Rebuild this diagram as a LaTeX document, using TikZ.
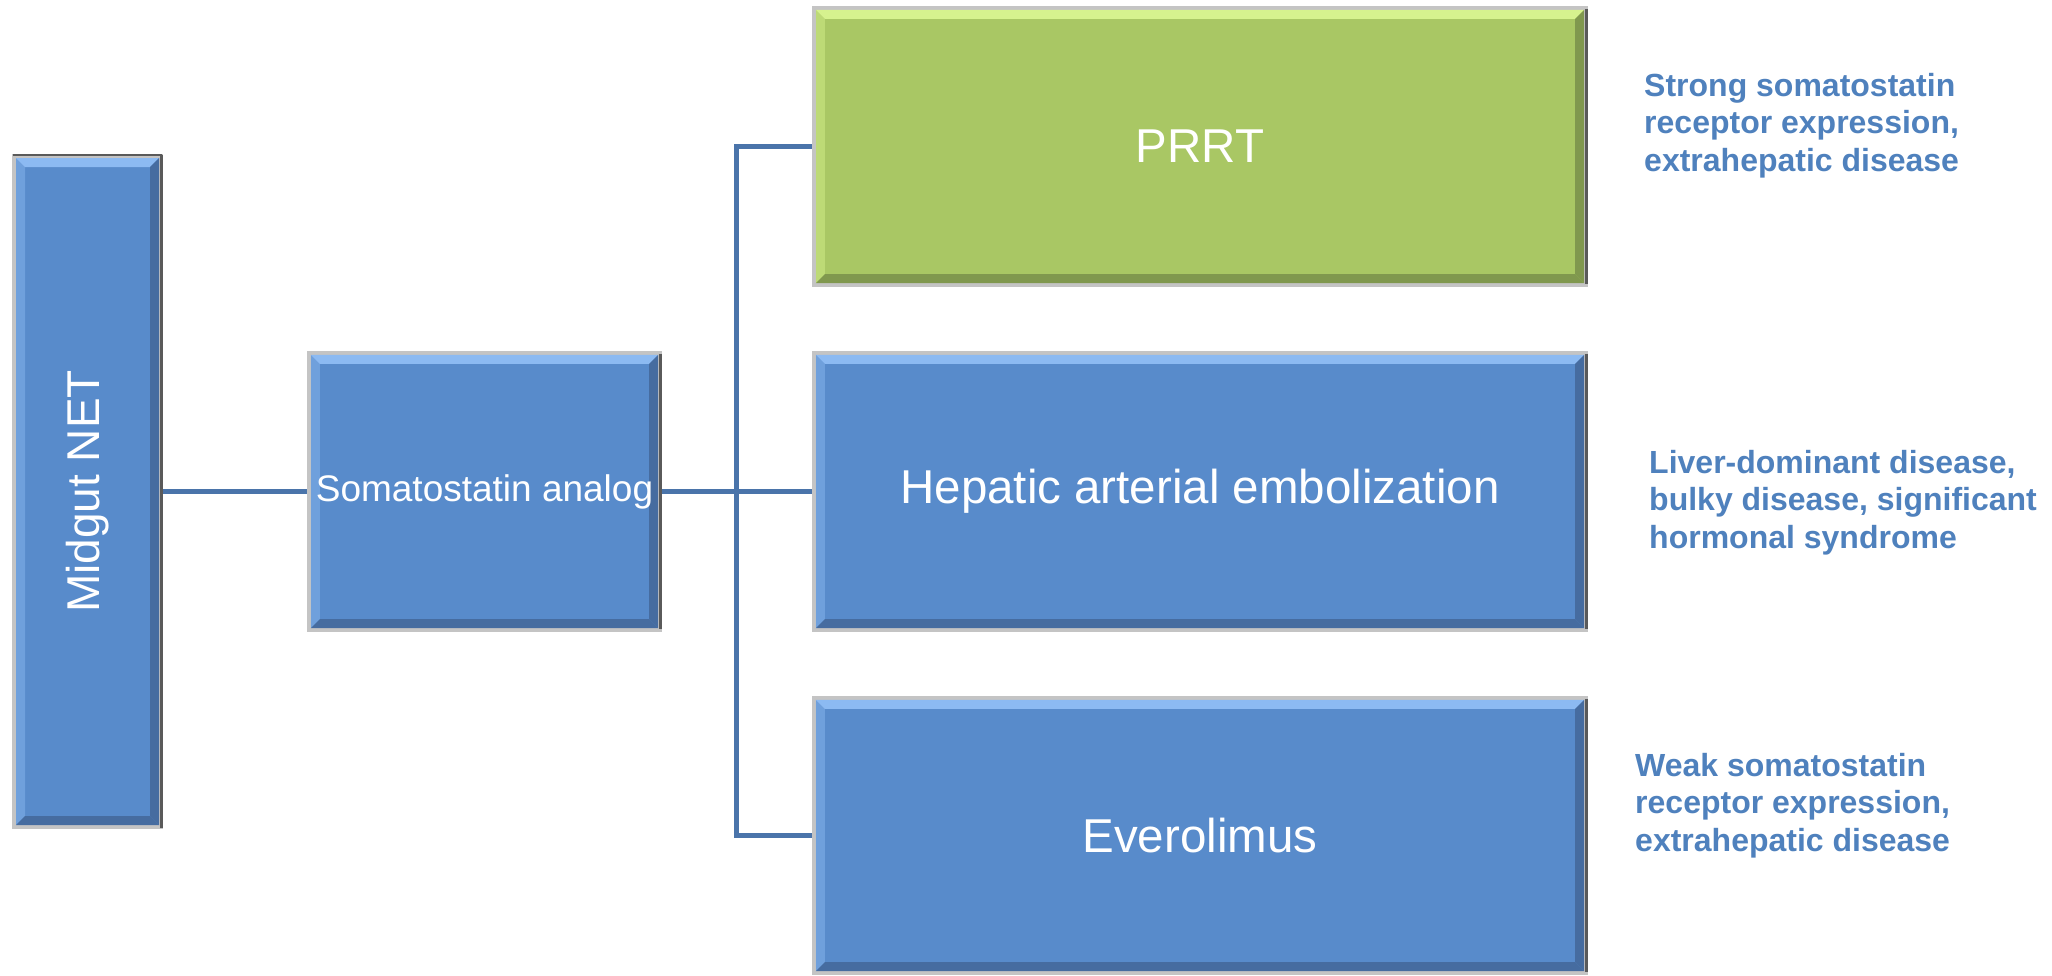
\documentclass[tikz,border=0pt]{standalone}
\usepackage{fontspec}
\setmainfont{Liberation Sans}
\usetikzlibrary{calc,backgrounds}
\definecolor{boxblue}{RGB}{88,139,203}
\definecolor{boxblueL}{RGB}{140,186,242}
\definecolor{boxblueD}{RGB}{70,108,160}
\definecolor{boxgreen}{RGB}{169,199,100}
\definecolor{boxgreenL}{RGB}{214,242,142}
\definecolor{boxgreenD}{RGB}{128,152,78}
\definecolor{conncol}{RGB}{74,116,170}
\definecolor{notecol}{RGB}{79,129,189}
\definecolor{frameL}{RGB}{196,196,196}
\definecolor{frameD}{RGB}{90,90,90}
\newcommand\bevelbox[4]{% node, fill, light, dark
  \begin{pgfonlayer}{background}
  \fill[#2] (#1.south west) rectangle (#1.north east);
  \draw[frameL,line width=4pt] ($(#1.south west)+(2,-2)$) rectangle ($(#1.north east)+(-2,2)$);
  \draw[frameD,line width=3pt] ($(#1.north east)+(-2,3)$) -- ($(#1.south east)+(-2,-3)$);
  \fill[#3] ($(#1.north west)+(4,4)$) -- ($(#1.north east)+(-4,4)$) -- ($(#1.north east)+(-13,13)$) -- ($(#1.north west)+(13,13)$) -- cycle;
  \fill[#3,opacity=.45] ($(#1.north west)+(4,4)$) -- ($(#1.south west)+(4,-4)$) -- ($(#1.south west)+(13,-13)$) -- ($(#1.north west)+(13,13)$) -- cycle;
  \fill[#4] ($(#1.south west)+(4,-4)$) -- ($(#1.south east)+(-4,-4)$) -- ($(#1.south east)+(-13,-13)$) -- ($(#1.south west)+(13,-13)$) -- cycle;
  \fill[#4] ($(#1.north east)+(-4,4)$) -- ($(#1.south east)+(-4,-4)$) -- ($(#1.south east)+(-13,-13)$) -- ($(#1.north east)+(-13,13)$) -- cycle;
  \end{pgfonlayer}}
\tikzset{
  box/.style={rectangle, inner sep=0pt, text=white},
  bigtext/.style={font=\fontsize{47.5}{52}\selectfont},
  conn/.style={draw=conncol, line width=5pt, line join=miter},
  note/.style={anchor=base west, align=left, inner sep=0pt, text=notecol,
    font=\bfseries\fontsize{32}{37.5}\selectfont},
}
\begin{document}
\begin{tikzpicture}[x=1pt,y=-1pt]
\useasboundingbox (0,0) rectangle (2052,975);
\node[box, minimum width=151pt, minimum height=675pt, rotate=90,
  font=\fontsize{46}{50}\selectfont] (mid) at (87.5,491.5) {Midgut NET};
\node[box, minimum width=355pt, minimum height=281pt,
  font=\fontsize{37}{42}\selectfont] (soma) at (484.5,491.5) {Somatostatin analog};
\node[box, bigtext, minimum width=776pt, minimum height=281pt] (prrt) at (1200,146.5) {PRRT};
\node[box, bigtext, minimum width=776pt, minimum height=281pt] (hep) at (1200,491.5) {Hepatic arterial embolization};
\node[box, bigtext, minimum width=776pt, minimum height=279pt] (ever) at (1200,835.5) {Everolimus};
\bevelbox{soma}{boxblue}{boxblueL}{boxblueD}
\bevelbox{prrt}{boxgreen}{boxgreenL}{boxgreenD}
\bevelbox{hep}{boxblue}{boxblueL}{boxblueD}
\bevelbox{ever}{boxblue}{boxblueL}{boxblueD}
\begin{pgfonlayer}{background}
  \fill[boxblue] (12,154) rectangle (163,829);
  \draw[frameL,line width=4pt] (14,156) rectangle (161,827);
  \draw[frameD,line width=3pt] (161,155) -- (161,828);
  \draw[frameD,line width=2pt] (13,155) -- (162,155);
  \fill[boxblueL] (16,158) -- (159,158) -- (150,167) -- (25,167) -- cycle;
  \fill[boxblueL,opacity=.45] (16,158) -- (16,825) -- (25,816) -- (25,167) -- cycle;
  \fill[boxblueD] (16,825) -- (159,825) -- (150,816) -- (25,816) -- cycle;
  \fill[boxblueD] (159,158) -- (159,825) -- (150,816) -- (150,167) -- cycle;
\end{pgfonlayer}
\coordinate (midE) at (163,491.5);
\draw[conn] (midE) -- (soma.west);
\draw[conn] (soma.east) -- (hep.west);
\draw[conn] (prrt.west) -- ++(-75,0) |- (ever.west);
\node[note] (n1) at (1644,171) {Strong somatostatin\\receptor expression,\\extrahepatic disease};
\node[note] (n2) at (1649,548) {Liver-dominant disease,\\bulky disease, significant\\hormonal syndrome};
\node[note] (n3) at (1635,851) {Weak somatostatin\\receptor expression,\\extrahepatic disease};
\end{tikzpicture}
\end{document}
